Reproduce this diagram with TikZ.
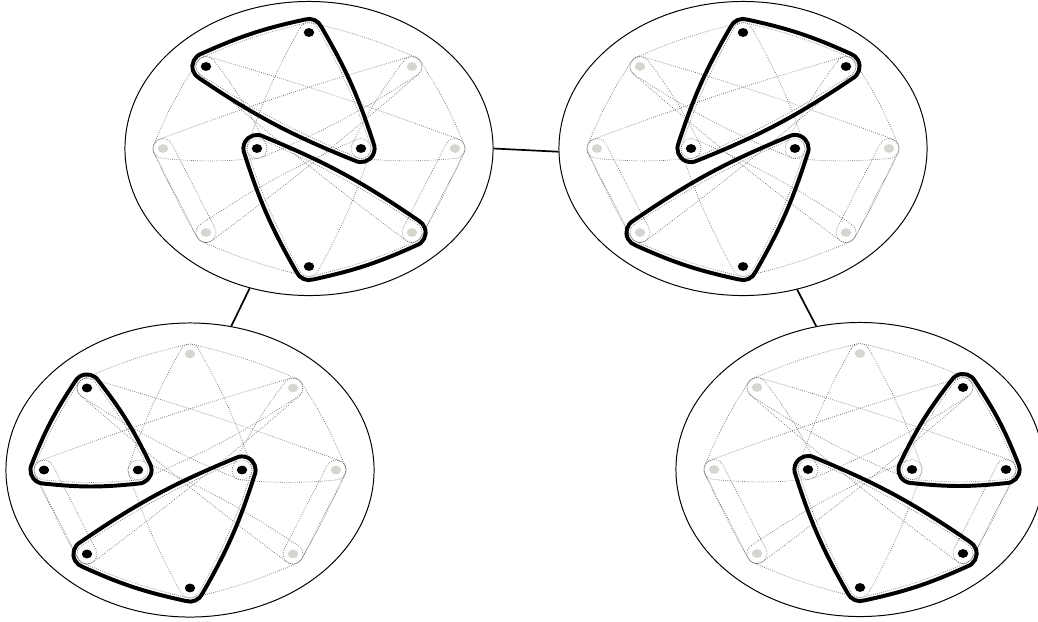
\documentclass[tikz,border=0pt]{standalone}
\usepackage{tikz}
\usetikzlibrary{calc,shapes.geometric}
\definecolor{vgrey}{HTML}{D6D6D0}
\definecolor{egrey}{HTML}{6E6E6E}
\def\rd{0.25cm}
\def\rb{0.34cm}
\tikzset{
  panel/.style={ellipse, draw, line width=0.7pt, minimum width=9.2cm,
                minimum height=7.35cm, inner sep=0pt},
  vert/.style={ellipse, fill=vgrey, minimum width=0.26cm, minimum height=0.22cm,
               inner sep=0pt},
  hyp/.style={draw=egrey, line width=0.5pt, densely dotted},
  match/.style={draw=black, line width=2.8pt},
  link/.style={line width=1.2pt},
}
% rounded hull round three vertices, given counter-clockwise
\newcommand{\hedge}[6][4]{% bend, style, radius, a, b, c
  \draw[#2] let \p1=(#4.center), \p2=(#5.center), \p3=(#6.center),
      \n1={atan2(\y2-\y1,\x2-\x1)-90}, \n2={atan2(\y3-\y2,\x3-\x2)-90},
      \n3={atan2(\y1-\y3,\x1-\x3)-90},
      \n4={mod(\n2-\n1+720,360)}, \n5={mod(\n3-\n2+720,360)},
      \n6={mod(\n1-\n3+720,360)} in
    ($(\p1)+(\n1:#3)$) to[bend right=#1] ($(\p2)+(\n1:#3)$)
    arc[start angle=\n1, delta angle=\n4, radius=#3]
    to[bend right=#1] ($(\p3)+(\n2:#3)$)
    arc[start angle=\n2, delta angle=\n5, radius=#3]
    to[bend right=#1] ($(\p1)+(\n3:#3)$)
    arc[start angle=\n3, delta angle=\n6, radius=#3] -- cycle;}
% stadium round two vertices
\newcommand{\pedge}[4]{% style, radius, a, b
  \draw[#1] let \p1=(#3.center), \p2=(#4.center),
      \n1={atan2(\y2-\y1,\x2-\x1)-90}, \n2={\n1+180} in
    ($(\p1)+(\n1:#2)$) -- ($(\p2)+(\n1:#2)$)
    arc[start angle=\n1, delta angle=180, radius=#2]
    -- ($(\p1)+(\n2:#2)$)
    arc[start angle=\n2, delta angle=180, radius=#2] -- cycle;}
% the ten vertices of one state, and which of them are covered
\newcommand{\verts}[2]{% prefix, black vertices
  \foreach \v/\x/\y in {A/0/116, B/-103/82, C/103/82, D/-146/0, E/-52/0,
                        F/52/0, G/146/0, H/-103/-84, I/103/-84, J/0/-118}
    \node[vert] (#1\v) at (\x,\y) {};
  \foreach \v in {#2}
    \fill (#1\v) ellipse [x radius=0.13cm, y radius=0.11cm];}
% all hyperedges, dotted
\newcommand{\hyps}[1]{%
  \hedge[5]{hyp}{\rd}{#1A}{#1B}{#1F}  \hedge[5]{hyp}{\rd}{#1A}{#1E}{#1C}
  \hedge[5]{hyp}{\rd}{#1B}{#1D}{#1E}  \hedge[5]{hyp}{\rd}{#1C}{#1F}{#1G}
  \hedge[5]{hyp}{\rd}{#1E}{#1J}{#1I}  \hedge[5]{hyp}{\rd}{#1F}{#1H}{#1J}
  \hedge[2]{hyp}{\rd}{#1B}{#1I}{#1G}  \hedge[2]{hyp}{\rd}{#1C}{#1D}{#1H}
  \pedge{hyp}{\rd}{#1D}{#1H}          \pedge{hyp}{\rd}{#1G}{#1I}}

\begin{document}
\begin{tikzpicture}[x=0.025cm, y=0.025cm]
  \useasboundingbox (0,0) rectangle (1038,-621);

  % --- top left ---------------------------------------------------------
  \begin{scope}[shift={(309,-148.5)}]
    \node[panel] (tl) at (0,0) {};
    \verts{tl}{A,B,E,F,J}
  \end{scope}
  \hyps{tl}
  \hedge[6]{match}{\rb}{tlA}{tlB}{tlF}
  \hedge[6]{match}{\rb}{tlE}{tlJ}{tlI}

  % --- top right --------------------------------------------------------
  \begin{scope}[shift={(743,-148.5)}]
    \node[panel] (tr) at (0,0) {};
    \verts{tr}{A,C,E,F,J}
  \end{scope}
  \hyps{tr}
  \hedge[6]{match}{\rb}{trA}{trE}{trC}
  \hedge[6]{match}{\rb}{trF}{trH}{trJ}

  % --- bottom left ------------------------------------------------------
  \begin{scope}[shift={(190,-470)}]
    \node[panel] (bl) at (0,0) {};
    \verts{bl}{B,D,E,F,H,J}
  \end{scope}
  \hyps{bl}
  \hedge[6]{match}{\rb}{blB}{blD}{blE}
  \hedge[6]{match}{\rb}{blF}{blH}{blJ}

  % --- bottom right -----------------------------------------------------
  \begin{scope}[shift={(860,-469.5)}]
    \node[panel] (br) at (0,0) {};
    \verts{br}{C,E,F,G,I,J}
  \end{scope}
  \hyps{br}
  \hedge[6]{match}{\rb}{brC}{brF}{brG}
  \hedge[6]{match}{\rb}{brE}{brJ}{brI}

  % --- moves between states ---------------------------------------------
  \draw[link] (tl.0) -- (tr.181);
  \draw[link] (tl.247) -- (bl.74);
  \draw[link] (tr.291) -- (br.107);
\end{tikzpicture}
\end{document}
